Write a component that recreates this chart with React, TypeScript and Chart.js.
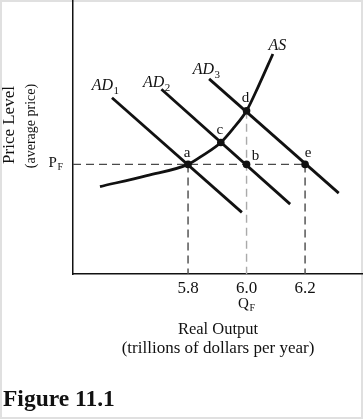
import React, { useEffect, useRef } from "react";
import { Chart, registerables } from "chart.js";

Chart.register(...registerables);

// ---- data ----
const X_MIN = 5.4068;
const X_MAX = 6.398;
const Y_MIN = 0;
const Y_MAX = 10;
const xTicks = [5.8, 6.0, 6.2];
const priceFull = 4; // P_F
const outputFull = 6.0; // Q_F

const ad1X = [5.54, 5.984];
const ad1Y = [6.43, 2.25];
const ad2X = [5.709, 6.149];
const ad2Y = [6.74, 2.55];
const ad3X = [5.872, 6.315];
const ad3Y = [7.12, 2.95];
const asX = [5.499, 5.659, 5.8, 5.852, 5.912, 5.955, 6.0, 6.04, 6.09];
const asY = [3.19, 3.59, 4.0, 4.34, 4.8, 5.32, 5.96, 6.84, 8.03];

const ptNames = ["a", "b", "c", "d", "e"];
const ptX = [5.8, 6.0, 5.912, 6.0, 6.2];
const ptY = [4.0, 4.0, 4.8, 5.96, 4.0];

const curveMain = ["AD", "AD", "AD", "AS"];
const curveSub = ["1", "2", "3", ""];
const curveLabelX = [5.471, 5.646, 5.816, 6.075];
const curveLabelY = [6.72, 6.82, 7.3, 8.18];

const xTitle = ["Real Output", "(trillions of dollars per year)"];
const yTitle = ["Price Level", "(average price)"];
const caption = "Figure 11.1";

// ---- styles ----
const SERIF = "'Liberation Serif', 'Times New Roman', serif";
const INK = "#111111";
const ptLabelOffset: Record<string, [number, number]> = {
  a: [-1, -7],
  b: [9, -4],
  c: [-1, -8],
  d: [-1, -9],
  e: [3, -7],
};

const toPts = (xs: number[], ys: number[]) => xs.map((x, i) => ({ x, y: ys[i] }));

function drawWithSub(
  ctx: CanvasRenderingContext2D,
  x: number,
  y: number,
  main: string,
  sub: string,
  mainFont: string,
  subFont: string,
  drop: number,
  align: "left" | "center" | "right"
) {
  ctx.font = mainFont;
  const wm = ctx.measureText(main).width;
  ctx.font = subFont;
  const ws = sub ? ctx.measureText(sub).width + 0.5 : 0;
  const total = wm + ws;
  let left = x;
  if (align === "center") left = x - total / 2;
  if (align === "right") left = x - total;
  ctx.textAlign = "left";
  ctx.textBaseline = "alphabetic";
  ctx.font = mainFont;
  ctx.fillText(main, left, y);
  if (sub) {
    ctx.font = subFont;
    ctx.fillText(sub, left + wm + 0.5, y + drop);
  }
}

const framePlugin = {
  id: "frame",
  beforeDraw(chart: any) {
    const { ctx, width, height } = chart;
    ctx.save();
    ctx.fillStyle = "#ffffff";
    ctx.fillRect(0, 0, width, height);
    ctx.strokeStyle = "#e0e0e0";
    ctx.lineWidth = 2;
    ctx.strokeRect(1, 1, width - 2, height - 2);
    ctx.restore();
  },
};

const textPlugin = {
  id: "econText",
  afterDraw(chart: any) {
    const { ctx, scales } = chart;
    const xs = scales.x;
    const ys = scales.y;
    ctx.save();
    ctx.fillStyle = INK;

    // curve labels
    curveMain.forEach((m, i) => {
      const px = xs.getPixelForValue(curveLabelX[i]);
      const py = ys.getPixelForValue(curveLabelY[i]);
      drawWithSub(ctx, px, py, m, curveSub[i], `italic 16px ${SERIF}`, `11px ${SERIF}`, 4, "left");
    });

    // point labels
    ctx.font = `15px ${SERIF}`;
    ctx.textAlign = "center";
    ctx.textBaseline = "alphabetic";
    ptNames.forEach((n, i) => {
      const [dx, dy] = ptLabelOffset[n];
      ctx.fillText(n, xs.getPixelForValue(ptX[i]) + dx, ys.getPixelForValue(ptY[i]) + dy);
    });

    // P_F
    const pfY = ys.getPixelForValue(priceFull);
    drawWithSub(ctx, chart.chartArea.left - 10, pfY + 3, "P", "F", `15px ${SERIF}`, `10px ${SERIF}`, 3, "right");

    // Q_F
    const qfX = xs.getPixelForValue(outputFull);
    drawWithSub(ctx, qfX, chart.chartArea.bottom + 34, "Q", "F", `15px ${SERIF}`, `10px ${SERIF}`, 3, "center");

    // x title
    ctx.textAlign = "center";
    ctx.textBaseline = "middle";
    ctx.font = `16.5px ${SERIF}`;
    ctx.fillText(xTitle[0], 218, 330);
    ctx.font = `17px ${SERIF}`;
    ctx.fillText(xTitle[1], 218, 349);

    // y title
    ctx.save();
    ctx.translate(10, 125);
    ctx.rotate(-Math.PI / 2);
    ctx.font = `17px ${SERIF}`;
    ctx.fillText(yTitle[0], 0, 0);
    ctx.restore();
    ctx.save();
    ctx.translate(31, 126);
    ctx.rotate(-Math.PI / 2);
    ctx.font = `14px ${SERIF}`;
    ctx.fillText(yTitle[1], 0, 0);
    ctx.restore();

    // caption
    ctx.textAlign = "left";
    ctx.textBaseline = "alphabetic";
    ctx.font = `bold 23.5px ${SERIF}`;
    ctx.fillStyle = "#111";
    ctx.fillText(caption, 3, 406);
    ctx.restore();
  },
};

export default function App() {
  const ref = useRef<HTMLCanvasElement | null>(null);

  useEffect(() => {
    if (!ref.current) return;
    const curve = (data: any[], extra: any = {}) => ({
      data,
      showLine: true,
      borderColor: INK,
      borderWidth: 2.8,
      pointRadius: 0,
      fill: false,
      ...extra,
    });
    const dashed = (data: any[], color: string) => ({
      data,
      showLine: true,
      borderColor: color,
      borderWidth: 1.4,
      borderDash: [8, 5],
      pointRadius: 0,
      fill: false,
    });

    const chart = new Chart(ref.current, {
      type: "scatter",
      data: {
        datasets: [
          {
            data: toPts(ptX, ptY),
            showLine: false,
            pointRadius: 3.8,
            pointBackgroundColor: INK,
            pointBorderColor: INK,
            pointBorderWidth: 0,
          },
          curve(toPts(ad1X, ad1Y)),
          curve(toPts(ad2X, ad2Y)),
          curve(toPts(ad3X, ad3Y)),
          curve(toPts(asX, asY), { cubicInterpolationMode: "monotone" }),
          dashed([{ x: X_MIN, y: priceFull }, { x: 6.2, y: priceFull }], "#4a4a4a"),
          dashed([{ x: 5.8, y: priceFull }, { x: 5.8, y: Y_MIN }], "#4a4a4a"),
          dashed([{ x: 6.2, y: priceFull }, { x: 6.2, y: Y_MIN }], "#4a4a4a"),
          dashed([{ x: outputFull, y: 5.96 }, { x: outputFull, y: Y_MIN }], "#aaaaaa"),
        ] as any,
      },
      options: {
        animation: false,
        responsive: false,
        maintainAspectRatio: false,
        devicePixelRatio: 1,
        events: [],
        layout: { autoPadding: false, padding: { left: 0, right: 0, top: 0, bottom: 60 } },
        plugins: { legend: { display: false }, tooltip: { enabled: false }, title: { display: false } },
        scales: {
          x: {
            type: "linear",
            min: X_MIN,
            max: X_MAX,
            grid: { display: false, drawTicks: false },
            border: { display: true, color: INK, width: 1.5 },
            afterBuildTicks: (s: any) => {
              s.ticks = xTicks.map((v) => ({ value: v }));
            },
            afterFit: (s: any) => {
              s.height = 85;
            },
            ticks: {
              color: INK,
              padding: 4,
              font: { family: SERIF, size: 17 },
              callback: (v: any) => Number(v).toFixed(1),
              maxRotation: 0,
              autoSkip: false,
            },
          },
          y: {
            type: "linear",
            min: Y_MIN,
            max: Y_MAX,
            grid: { display: false, drawTicks: false },
            border: { display: true, color: INK, width: 1.5 },
            ticks: { display: false },
            afterFit: (s: any) => {
              s.width = 73;
            },
          },
        },
      } as any,
      plugins: [framePlugin, textPlugin],
    });
    return () => chart.destroy();
  }, []);

  return (
    <div style={{ position: "absolute", left: 0, top: 0, width: 363, height: 419 }}>
      <canvas ref={ref} width={363} height={419} style={{ width: 363, height: 419, display: "block" }} />
    </div>
  );
}
